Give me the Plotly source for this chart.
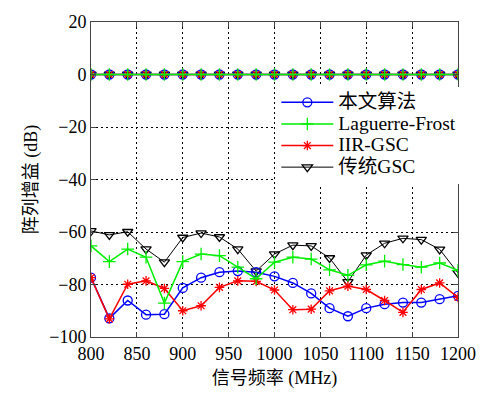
import plotly.graph_objects as go

# Frequency grid (MHz)
freq = [800, 820, 840, 860, 880, 900, 920, 940, 960, 980, 1000,
        1020, 1040, 1060, 1080, 1100, 1120, 1140, 1160, 1180, 1200]

# Gain toward the desired signal (dB), identical for every method
signal_gain = [0, 0, 0, 0, 0, 0, 0, 0, 0, 0, 0,
               0, 0, 0, 0, 0, 0, 0, 0, 0, 0]

# Gain toward the interference (dB)
proposed = [-77.4, -92.9, -86.1, -91.5, -91.3, -81.3, -77.4, -75.3, -74.9, -75.3, -76.9,
            -79.4, -83.4, -89.0, -92.1, -89.0, -87.5, -86.9, -86.9, -85.6, -84.3]
laguerre = [-65.3, -71.3, -66.5, -69.6, -87.1, -71.3, -68.4, -69.0, -73.4, -77.8, -71.5,
            -69.6, -70.3, -74.4, -76.5, -72.5, -71.1, -72.4, -73.4, -71.8, -74.6]
iir_gsc = [-77.4, -93.1, -79.9, -78.6, -81.5, -90.0, -88.1, -81.1, -78.6, -78.8, -82.1,
           -89.6, -89.4, -82.4, -80.6, -81.9, -86.1, -90.6, -81.9, -79.4, -84.9]
classic_gsc = [-59.6, -61.1, -59.9, -66.5, -71.5, -62.1, -60.4, -61.9, -66.5, -74.9, -68.4,
               -65.0, -65.3, -69.9, -79.0, -68.8, -64.3, -62.4, -62.9, -66.6, -75.6]

names = ["本文算法", "Laguerre-Frost", "IIR-GSC", "传统GSC"]
colors = ["#0000ff", "#00ee00", "#ff0000", "#000000"]
symbols = ["circle-open", "cross-thin-open", "asterisk-open", "triangle-down-open"]
widths = [1.5, 1.5, 1.5, 1.0]
series = [proposed, laguerre, iir_gsc, classic_gsc]

FONT = "'Liberation Serif', 'Noto Sans CJK SC', serif"

fig = go.Figure()

# draw order: black underneath, then blue, red, green on top
draw_order = [3, 0, 2, 1]
for i in draw_order:
    xs = freq + [None] + freq
    ys = signal_gain + [None] + series[i]
    fig.add_trace(go.Scatter(
        x=xs, y=ys, mode="lines+markers",
        name='<span style="font-size:19.5px">%s</span>' % names[i],
        legendrank=i + 1,
        line=dict(color=colors[i], width=widths[i]),
        marker=dict(symbol=symbols[i], size=9 if i != 2 else 8,
                    color=colors[i], line=dict(color=colors[i], width=1.3)),
        connectgaps=False,
    ))

axis_common = dict(
    showline=True, linecolor="#444", linewidth=1, mirror="ticks",
    ticks="inside", ticklen=5, tickcolor="#444",
    showgrid=True, gridcolor="#000", gridwidth=1, griddash="2px,3px",
    zeroline=False,
    tickfont=dict(family=FONT, size=18, color="#000"),
)

fig.update_xaxes(range=[800, 1200], tickvals=[800, 850, 900, 950, 1000, 1050, 1100, 1150, 1200],
                 title=dict(text="信号频率 (MHz)", font=dict(family=FONT, size=18, color="#000"),
                            standoff=8),
                 **axis_common)
fig.update_yaxes(range=[-100, 20], tickvals=[-100, -80, -60, -40, -20, 0, 20],
                 ticktext=["\u2212100", "\u221280", "\u221260", "\u221240", "\u221220", "0", "20"],
                 title=dict(text="阵列增益 (dB)", font=dict(family=FONT, size=18, color="#000"),
                            standoff=6),
                 **axis_common)

fig.update_layout(
    width=488, height=401,
    margin=dict(l=91, r=19, t=16, b=64),
    paper_bgcolor="white", plot_bgcolor="white",
    font=dict(family=FONT, size=18, color="#000"),
    showlegend=True,
    legend=dict(x=0.505, y=0.795, xanchor="left", yanchor="top",
                bgcolor="white", borderwidth=0,
                font=dict(family=FONT, size=14.3, color="#000"),
                tracegroupgap=0, itemwidth=52),
)

fig.write_html("out.html")
